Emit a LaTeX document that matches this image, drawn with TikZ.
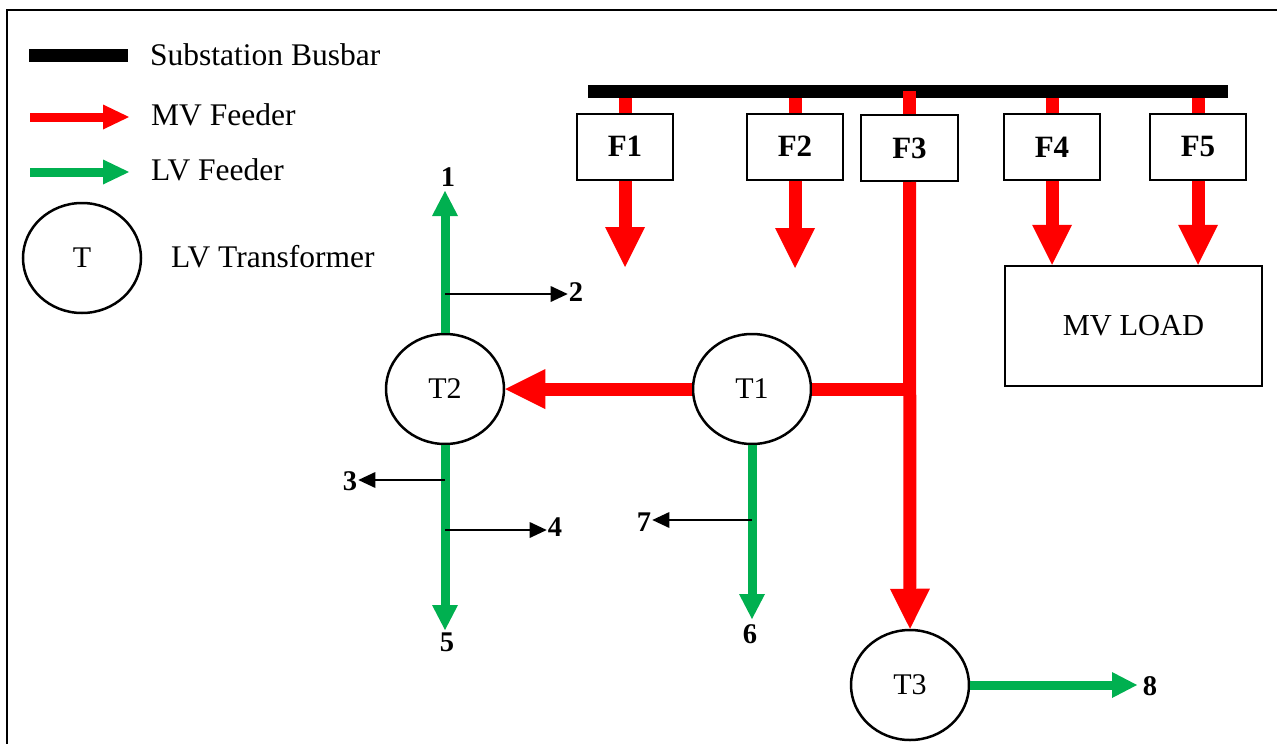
\documentclass[tikz,border=0pt]{standalone}
\usepackage{fontspec}
\setmainfont{Liberation Serif}
\usetikzlibrary{arrows.meta,shapes.geometric}
\definecolor{mvred}{RGB}{255,0,0}
\definecolor{lvgreen}{RGB}{0,176,80}
\tikzset{
  mvline/.style={draw=mvred, line width=13pt},
  mvarrow/.style={mvline, -{Triangle[length=40pt,width=40pt,line width=0pt]}},
  lvarrow/.style={draw=lvgreen, line width=9pt, -{Triangle[length=25pt,width=26pt,line width=0pt]}},
  keymv/.style={draw=mvred, line width=9pt, -{Triangle[length=26pt,width=25pt,line width=0pt]}},
  keylv/.style={draw=lvgreen, line width=9pt, -{Triangle[length=26pt,width=25pt,line width=0pt]}},
  tap/.style={draw=black, line width=1.4pt, -{Triangle[length=17pt,width=16pt,line width=0pt]}},
  txt/.style={font=\fontsize{31.5}{36}\selectfont, inner sep=0pt},
  xfmr/.style={ellipse, draw, line width=2.5pt, fill=white, minimum width=118pt, minimum height=110pt,
               inner sep=0pt, font=\fontsize{30}{35}\selectfont},
  feederbox/.style={draw, line width=2pt, fill=white, minimum width=96pt, minimum height=66pt,
               inner sep=0pt, font=\bfseries\fontsize{31}{36}\selectfont},
  num/.style={inner sep=1pt, font=\bfseries\fontsize{28.5}{33}\selectfont},
}
\begin{document}
\begin{tikzpicture}[x=1pt, y=-1pt]
  \useasboundingbox (0,0) rectangle (1277,744);
  \clip (0,0) rectangle (1277,744);
  \fill[white] (0,0) rectangle (1277,744);
  % outer frame
  \draw[line width=2pt] (7,10) rectangle (1320,800);

  % ---- key ----
  \node[fill=black, minimum width=99pt, minimum height=13pt, inner sep=0pt] (keybus) at (78.5,55.5) {};
  \node[txt, anchor=base west] (keybustxt) at (150,65) {Substation Busbar};
  \coordinate (keymvA) at (30,117);
  \coordinate (keymvB) at (129,117);
  \draw[keymv] (keymvA) -- (keymvB);
  \node[txt, anchor=base west] (keymvtxt) at (151,125) {MV Feeder};
  \coordinate (keylvA) at (30,172);
  \coordinate (keylvB) at (129,172);
  \draw[keylv] (keylvA) -- (keylvB);
  \node[txt, anchor=base west] (keylvtxt) at (151,180) {LV Feeder};
  \node[xfmr] (keyT) at (82,258) {T};
  \node[txt, anchor=base west] (keyTtxt) at (171,267) {LV Transformer};

  % ---- substation busbar and feeder breakers ----
  \node[feederbox] (F1) at (625,146.5) {F1};
  \node[feederbox] (F2) at (795,146.5) {F2};
  \node[feederbox, minimum width=97pt] (F3) at (909.5,148) {F3};
  \node[feederbox] (F4) at (1052,147) {F4};
  \node[feederbox] (F5) at (1198,146.5) {F5};
  \node[fill=black, minimum width=640pt, minimum height=13pt, inner sep=0pt] (bus) at (908,91) {};
  \foreach \f in {F1,F2,F4,F5}{
    \draw[mvline] (\f.north |- bus.south) -- (\f.north);
  }
  \draw[mvline] (F3.north |- bus.center) -- (F3.north);

  % MV load
  \node[draw, line width=2.5pt, minimum width=257pt, minimum height=120pt, inner sep=0pt,
        font=\fontsize{30.5}{35}\selectfont] (load) at (1133.5,326) {MV LOAD};

  % open feeder ends
  \coordinate (F1end) at (625,267);
  \coordinate (F2end) at (795,268);
  \draw[mvarrow] (F1.south) -- (F1end);
  \draw[mvarrow] (F2.south) -- (F2end);
  \draw[mvarrow] (F4.south) -- (F4.south |- load.north);
  \draw[mvarrow] (F5.south) -- (F5.south |- load.north);

  % ---- LV transformers ----
  \node[xfmr] (T1) at (752,389) {T1};
  \node[xfmr] (T2) at (445,389) {T2};
  \node[xfmr] (T3) at (910,685) {T3};

  % MV feeder F3 to the transformers
  \draw[mvline] (T1.east) -- (T1.east -| F3.south);
  \draw[mvarrow] (F3.south) -- (T3.north);
  \draw[mvarrow] (T1.west) -- (T2.east);

  % LV feeders
  \coordinate (n1) at (445,191);
  \coordinate (n5) at (445,630);
  \coordinate (n6) at (752,619);
  \coordinate (n8) at (1137,685);
  \draw[lvarrow] (T2.north) -- (n1);
  \draw[lvarrow] (T2.south) -- (n5);
  \draw[lvarrow] (T1.south) -- (n6);
  \draw[lvarrow] (T3.east) -- (n8);

  % customer points
  \node[num] (p1) at (448,177) {1};
  \node[num] (p2) at (576,292) {2};
  \node[num] (p3) at (350,481) {3};
  \node[num] (p4) at (555,527.5) {4};
  \node[num] (p5) at (447,642) {5};
  \node[num] (p6) at (750,634) {6};
  \node[num] (p7) at (644,522) {7};
  \node[num] (p8) at (1150,686) {8};

  % service taps
  \coordinate (tap2) at (445,294);
  \coordinate (tap3) at (445,480);
  \coordinate (tap4) at (445,530);
  \coordinate (tap7) at (752,520);
  \draw[tap] (tap2) -- (tap2 -| p2.west);
  \draw[tap] (tap3) -- (tap3 -| p3.east);
  \draw[tap] (tap4) -- (tap4 -| p4.west);
  \draw[tap] (tap7) -- (tap7 -| p7.east);
\end{tikzpicture}
\end{document}
